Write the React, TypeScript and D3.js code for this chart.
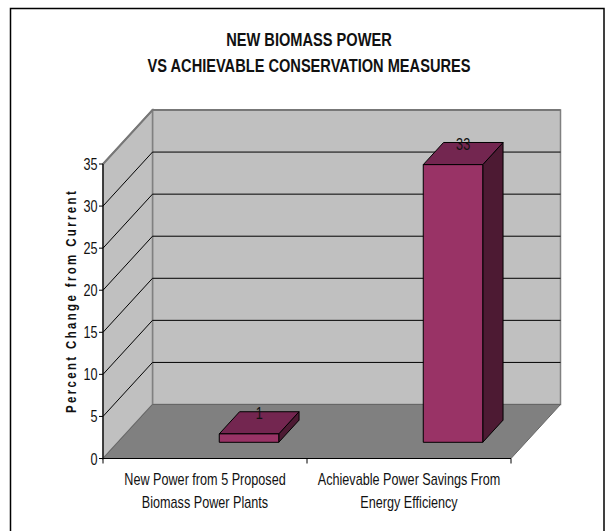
import React from "react";
import * as d3 from "d3";

const categories = [
  ["New Power from 5 Proposed", "Biomass Power Plants"],
  ["Achievable Power Savings From", "Energy Efficiency"],
];
const values = [1, 33];
const yTicks = [0, 5, 10, 15, 20, 25, 30, 35];
const titleLines = ["NEW BIOMASS POWER", "VS ACHIEVABLE CONSERVATION MEASURES"];
const yTitle = "Percent Change from Current";

const FONT = "'Liberation Sans', Arial, sans-serif";
const CONDENSE = 0.79;

// Oblique projection of the chart box: x along categories, z into the page.
const frontLeft = 103;
const frontRight = 511;
const frontBase = 458.5;
const frontTop = 164;
const depthX = 49.5;
const depthY = 54;

const x = d3.scaleBand<number>().domain(d3.range(categories.length)).range([frontLeft, frontRight]);
const y = d3.scaleLinear().domain([0, 35]).range([frontBase, frontTop]);
const barCentre = d3.scalePoint<number>().domain(d3.range(categories.length)).range([249, 453]);

const project = (px: number, v: number, depth: number): [number, number] => [
  px + depth * depthX,
  y(v) - depth * depthY,
];
const poly = (pts: [number, number][]) => d3.line()(pts)! + "Z";

const BAR_WIDTH = 59.5;
const BAR_NEAR = 0.3;
const BAR_FAR = 0.71;

// Arial-style lettering squeezed horizontally about its anchor point.
function Label({
  x: tx,
  y: ty,
  size,
  anchor = "middle",
  bold = false,
  children,
}: {
  x: number;
  y: number;
  size: number;
  anchor?: string;
  bold?: boolean;
  children: React.ReactNode;
}) {
  return (
    <text
      transform={`translate(${tx},${ty}) scale(${CONDENSE},1)`}
      textAnchor={anchor}
      fontFamily={FONT}
      fontSize={size}
      fontWeight={bold ? "bold" : "normal"}
      fill="#111"
    >
      {children}
    </text>
  );
}

function Bar({ index }: { index: number }) {
  const v = values[index];
  // Centre is given on the near face, so remove its depth shift before projecting.
  const l = barCentre(index)! - BAR_WIDTH / 2 - BAR_NEAR * depthX;
  const r = l + BAR_WIDTH;
  const stroke = { stroke: "#000", strokeWidth: 1, strokeLinejoin: "round" as const };
  const labelPos = project((l + r) / 2, v, (BAR_NEAR + BAR_FAR) / 2);
  return (
    <g>
      <path
        d={poly([project(r, 0, BAR_NEAR), project(r, 0, BAR_FAR), project(r, v, BAR_FAR), project(r, v, BAR_NEAR)])}
        fill="#4d1a33"
        {...stroke}
      />
      <path
        d={poly([project(l, v, BAR_NEAR), project(r, v, BAR_NEAR), project(r, v, BAR_FAR), project(l, v, BAR_FAR)])}
        fill="#732650"
        {...stroke}
      />
      <path
        d={poly([project(l, 0, BAR_NEAR), project(r, 0, BAR_NEAR), project(r, v, BAR_NEAR), project(l, v, BAR_NEAR)])}
        fill="#993366"
        {...stroke}
      />
      <Label x={labelPos[0]} y={labelPos[1] - 4} size={16}>
        {v}
      </Label>
    </g>
  );
}

export default function App() {
  return (
    <svg
      width={605}
      height={531}
      style={{ position: "absolute", left: 0, top: 0, background: "#fff" }}
    >
      <rect x={10.5} y={8.5} width={593.5} height={540} fill="#fff" stroke="#000" strokeWidth={1.5} />

      {/* back wall and side wall */}
      <path
        d={poly([project(frontLeft, 0, 1), project(frontRight, 0, 1), project(frontRight, 35, 1), project(frontLeft, 35, 1)])}
        fill="#c0c0c0"
        stroke="#808080"
        strokeWidth={1.5}
      />
      <path
        d={poly([project(frontLeft, 0, 0), project(frontLeft, 0, 1), project(frontLeft, 35, 1), project(frontLeft, 35, 0)])}
        fill="#c0c0c0"
        stroke="#808080"
        strokeWidth={1.5}
      />
      {/* floor */}
      <path
        d={poly([project(frontLeft, 0, 0), project(frontRight, 0, 0), project(frontRight, 0, 1), project(frontLeft, 0, 1)])}
        fill="#808080"
        stroke="#666"
        strokeWidth={1}
      />

      {/* gridlines wrap from the side wall onto the back wall */}
      {yTicks.slice(1).map((t) => (
        <path
          key={t}
          d={d3.line()([project(frontLeft, t, 0), project(frontLeft, t, 1), project(frontRight, t, 1)])!}
          fill="none"
          stroke={t === 35 ? "#777" : "#000"}
          strokeWidth={t === 35 ? 2 : 1}
        />
      ))}

      {values.map((_, i) => (
        <Bar key={i} index={i} />
      ))}

      {/* axes */}
      <path d={`M${frontLeft},${y(35)}V${frontBase}H${frontRight}`} fill="none" stroke="#000" strokeWidth={1.2} />
      {yTicks.map((t) => (
        <g key={t}>
          <line x1={frontLeft - 4} x2={frontLeft} y1={y(t)} y2={y(t)} stroke="#000" />
          <Label x={frontLeft - 5.5} y={y(t) + 6} size={16} anchor="end">
            {t}
          </Label>
        </g>
      ))}
      {[...x.domain().map((i) => x(i)!), frontRight].map((px) => (
        <line key={px} x1={px} x2={px} y1={frontBase} y2={frontBase + 5} stroke="#000" />
      ))}
      {categories.map((lines, i) =>
        lines.map((line, j) => (
          <Label key={line} x={x(i)! + x.bandwidth() / 2} y={485 + j * 23} size={16}>
            {line}
          </Label>
        )),
      )}

      {/* titles */}
      {titleLines.map((line, i) => (
        <Label key={line} x={309} y={45.5 + i * 26} size={18.5} bold>
          {line}
        </Label>
      ))}
      <text
        transform={`translate(76,301) rotate(-90) scale(${CONDENSE},1)`}
        textAnchor="middle"
        fontFamily={FONT}
        fontSize={14.5}
        fontWeight="bold"
        letterSpacing={3}
        fill="#111"
      >
        {yTitle}
      </text>
    </svg>
  );
}
